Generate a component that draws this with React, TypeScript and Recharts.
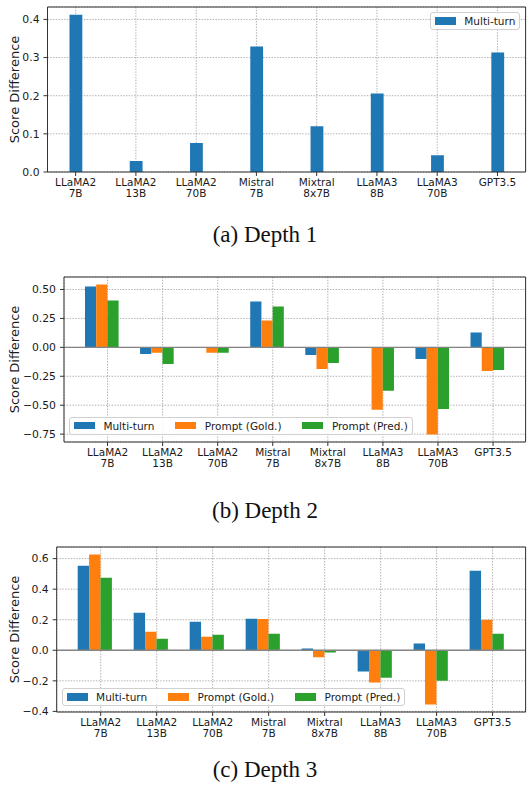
import React from "react"
import { BarChart, Bar, XAxis, YAxis, CartesianGrid, ReferenceLine, Legend, Label } from "recharts"

// categories (two-line tick labels)
const modelNames = ["LLaMA2", "LLaMA2", "LLaMA2", "Mistral", "Mixtral", "LLaMA3", "LLaMA3", "GPT3.5"]
const modelSizes = ["7B", "13B", "70B", "7B", "8x7B", "8B", "70B", ""]

// depth 1
const depth1Multi = [0.412, 0.029, 0.076, 0.329, 0.12, 0.206, 0.044, 0.313]

// depth 2
const depth2Multi = [0.526, -0.057, -0.005, 0.397, -0.066, -0.005, -0.1, 0.129]
const depth2Gold = [0.543, -0.046, -0.046, 0.233, -0.187, -0.54, -0.753, -0.204]
const depth2Pred = [0.405, -0.144, -0.046, 0.353, -0.135, -0.376, -0.532, -0.195]

// depth 3
const depth3Multi = [0.553, 0.246, 0.187, 0.207, 0.011, -0.139, 0.044, 0.52]
const depth3Gold = [0.627, 0.122, 0.089, 0.205, -0.046, -0.211, -0.355, 0.2]
const depth3Pred = [0.475, 0.076, 0.102, 0.109, -0.015, -0.179, -0.2, 0.109]

// y ticks / domains
const ticksA = [0, 0.1, 0.2, 0.3, 0.4]
const ticksB = [-0.75, -0.5, -0.25, 0, 0.25, 0.5]
const ticksC = [-0.4, -0.2, 0, 0.2, 0.4, 0.6]
const domainA: [number, number] = [0, 0.4326]
const domainB: [number, number] = [-0.818, 0.608]
const domainC: [number, number] = [-0.404, 0.676]

const seriesNames = ["Multi-turn", "Prompt (Gold.)", "Prompt (Pred.)"]
const seriesColors = ["#1f77b4", "#ff7f0e", "#2ca02c"]

const FONT = '"DejaVu Sans", sans-serif'
const SERIF = '"Liberation Serif", "Times New Roman", serif'
const AXIS = "#333"
const TEXT = "#1a1a1a"
const SMALL = 10.5

const CHART_W = 530
const PLOT_TOP = 7
const PLOT_H = 165
const XAXIS_H = 30
const CHART_H = PLOT_TOP + PLOT_H + XAXIS_H
const PLOT_RIGHT = 525.6

const categories = modelNames.map((n, i) => `${n}\n${modelSizes[i]}`)

const dataA = categories.map((model, i) => ({ model, multi: depth1Multi[i] }))
const dataB = categories.map((model, i) => ({ model, multi: depth2Multi[i], gold: depth2Gold[i], pred: depth2Pred[i] }))
const dataC = categories.map((model, i) => ({ model, multi: depth3Multi[i], gold: depth3Gold[i], pred: depth3Pred[i] }))

const seriesKeys = ["multi", "gold", "pred"]

function ModelTick(props: any) {
  const { x, y, payload } = props
  const [name, size] = String(payload.value).split("\n")
  return (
    <g>
      <text x={x} y={y + 8} textAnchor="middle" fontSize={SMALL} fontFamily={FONT} fill={TEXT}>{name}</text>
      <text x={x} y={y + 19} textAnchor="middle" fontSize={SMALL} fontFamily={FONT} fill={TEXT}>{size}</text>
    </g>
  )
}

function LegendBox({ count }: { count: number }) {
  return (
    <div
      style={{
        display: "flex",
        alignItems: "center",
        height: 18,
        boxSizing: "border-box",
        padding: "0 4px",
        border: "1px solid #d0d0d0",
        borderRadius: 3,
        background: "rgba(255,255,255,0.85)",
        fontFamily: FONT,
        fontSize: SMALL,
        color: TEXT,
        whiteSpace: "nowrap",
      }}
    >
      {seriesNames.slice(0, count).map((name, i) => (
        <div key={name} style={{ display: "flex", alignItems: "center", marginLeft: i ? 21 : 0 }}>
          <span style={{ display: "inline-block", width: 21, height: 7.4, background: seriesColors[i], marginRight: 8.4 }} />
          {name}
        </div>
      ))}
    </div>
  )
}

interface PanelProps {
  top: number
  data: any[]
  count: number
  yTicks: number[]
  yDomain: [number, number]
  decimals: number
  axisWidth: number
  barSize: number
  xPad: { left: number; right: number }
  spacer: boolean
  legendStyle: React.CSSProperties
  caption: string
  captionTop: number
}

function Panel(p: PanelProps) {
  const fmt = (v: number) => v.toFixed(p.decimals).replace("-", "\u2212")
  return (
    <>
      <div style={{ position: "absolute", left: 0, top: p.top, width: CHART_W, height: CHART_H }}>
        <BarChart
          width={CHART_W}
          height={CHART_H}
          data={p.data}
          barGap={0}
          margin={{ top: PLOT_TOP - 1, right: CHART_W - PLOT_RIGHT - 1, bottom: 0, left: 0 }}
        >
          <XAxis
            dataKey="model"
            height={XAXIS_H}
            interval={0}
            padding={p.xPad}
            tick={<ModelTick />}
            tickSize={4}
            tickMargin={2}
            axisLine={{ stroke: AXIS }}
            tickLine={{ stroke: AXIS }}
          />
          <XAxis
            xAxisId="top"
            dataKey="model"
            orientation="top"
            height={1}
            padding={p.xPad}
            tick={false}
            tickLine={false}
            axisLine={{ stroke: AXIS }}
          />
          <YAxis
            width={p.axisWidth}
            domain={p.yDomain}
            ticks={p.yTicks}
            interval={0}
            allowDataOverflow
            tickFormatter={fmt}
            tickSize={4}
            tickMargin={4}
            tick={{ fontSize: 10.8, fontFamily: FONT, fill: TEXT }}
            axisLine={{ stroke: AXIS }}
            tickLine={{ stroke: AXIS }}
          >
            <Label
              content={() => (
                <text
                  x={14}
                  y={PLOT_TOP + PLOT_H / 2}
                  transform={`rotate(-90 14 ${PLOT_TOP + PLOT_H / 2})`}
                  textAnchor="middle"
                  dominantBaseline="central"
                  fontSize={13}
                  fontFamily={FONT}
                  fill={TEXT}
                >
                  Score Difference
                </text>
              )}
            />
          </YAxis>
          <YAxis
            yAxisId="right"
            orientation="right"
            width={1}
            domain={p.yDomain}
            allowDataOverflow
            tick={false}
            tickLine={false}
            axisLine={{ stroke: AXIS }}
          />
          {seriesKeys.slice(0, p.count).map((k, i) => (
            <Bar key={k} dataKey={k} fill={seriesColors[i]} barSize={p.barSize} isAnimationActive={false} />
          ))}
          {p.spacer && <Bar dataKey="spacer" fill="none" barSize={p.barSize} legendType="none" isAnimationActive={false} />}
          {p.spacer && <ReferenceLine y={0} stroke="#858585" strokeWidth={1.4} />}
          <CartesianGrid stroke="#9a9a9a" strokeDasharray="1.4 1.4" strokeWidth={0.8} />
          <Legend
            layout="horizontal"
            align="center"
            verticalAlign="middle"
            wrapperStyle={{ width: "auto", ...p.legendStyle }}
            content={() => <LegendBox count={p.count} />}
          />
        </BarChart>
      </div>
      <div
        style={{
          position: "absolute",
          left: 0,
          top: p.captionTop,
          width: CHART_W,
          textAlign: "center",
          fontFamily: SERIF,
          fontSize: 23,
          lineHeight: "23px",
          color: "#111",
        }}
      >
        {p.caption}
      </div>
    </>
  )
}

export default function App() {
  return (
    <div style={{ position: "absolute", left: 0, top: 0, width: 530, height: 786, background: "#fff", overflow: "hidden" }}>
      <Panel
        top={0}
        data={dataA}
        count={1}
        yTicks={ticksA}
        yDomain={domainA}
        decimals={1}
        axisWidth={47.5}
        barSize={12.8}
        xPad={{ left: -2, right: -2 }}
        spacer={false}
        legendStyle={{ top: 12.2, right: 9.7, left: "auto" }}
        caption="(a) Depth 1"
        captionTop={223}
      />
      <Panel
        top={269.7}
        data={dataB}
        count={3}
        yTicks={ticksB}
        yDomain={domainB}
        decimals={2}
        axisWidth={64}
        barSize={11.2}
        xPad={{ left: 16, right: 5 }}
        spacer={true}
        legendStyle={{ top: 147, left: 69 }}
        caption="(b) Depth 2"
        captionTop={499}
      />
      <Panel
        top={540.3}
        data={dataC}
        count={3}
        yTicks={ticksC}
        yDomain={domainC}
        decimals={1}
        axisWidth={56.7}
        barSize={11.4}
        xPad={{ left: 16, right: 5 }}
        spacer={true}
        legendStyle={{ top: 147.7, left: 61.7 }}
        caption="(c) Depth 3"
        captionTop={758}
      />
    </div>
  )
}
